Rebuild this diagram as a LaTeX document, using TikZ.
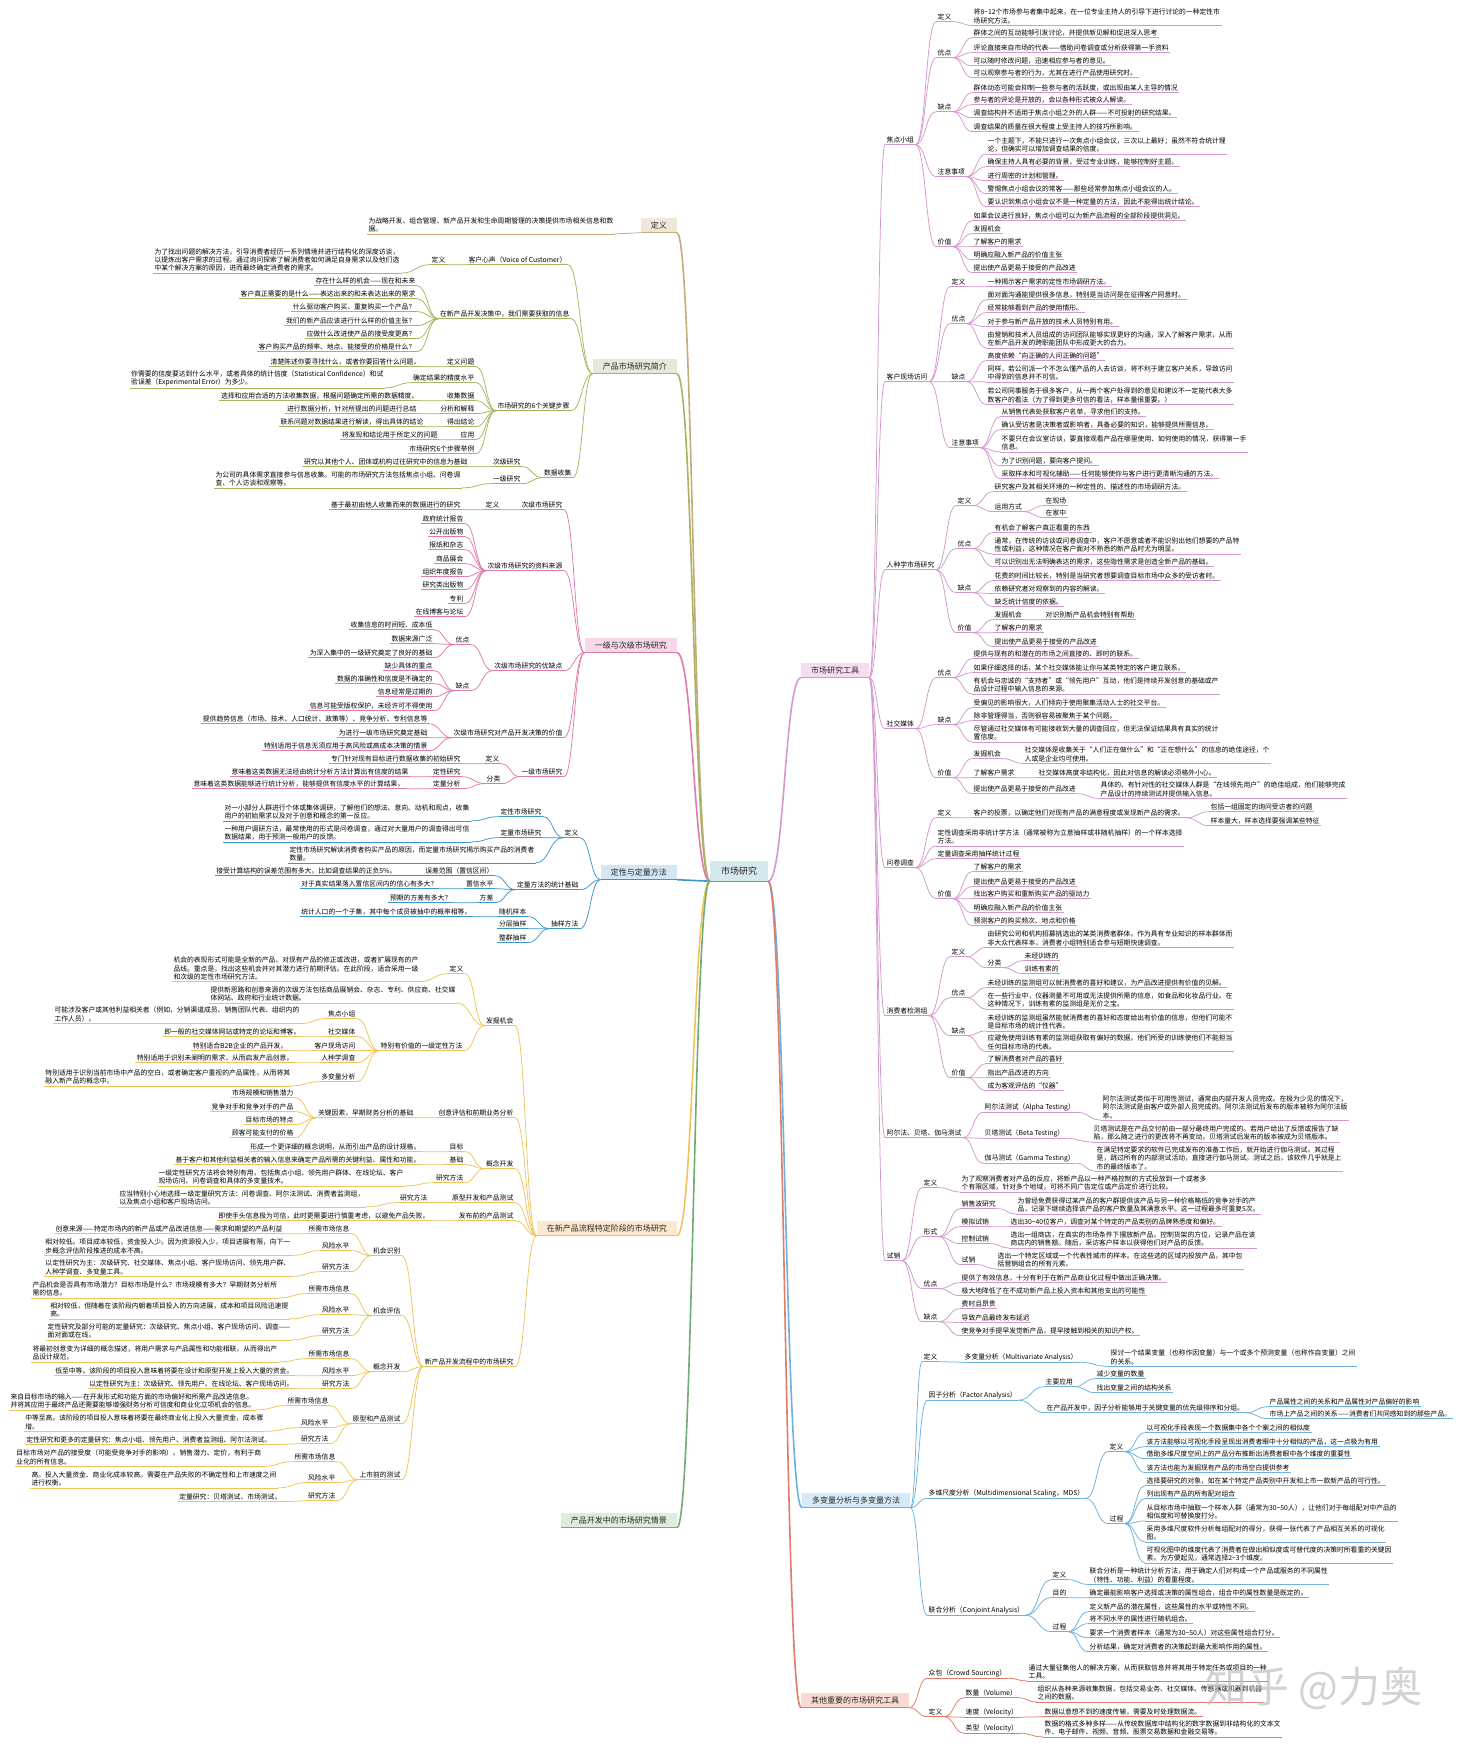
\documentclass[tikz,border=0pt]{standalone}
\usepackage{fontspec}
\setmainfont{Noto Sans CJK SC}
\usetikzlibrary{calc}
\definecolor{cTool}{RGB}{212,152,206}
\definecolor{cToolF}{RGB}{247,220,240}
\definecolor{cMv}{RGB}{110,176,222}
\definecolor{cMvF}{RGB}{215,234,248}
\definecolor{cOt}{RGB}{222,125,105}
\definecolor{cOtF}{RGB}{250,218,208}
\definecolor{cDef}{RGB}{196,172,122}
\definecolor{cDefF}{RGB}{240,231,219}
\definecolor{cIn}{RGB}{168,180,95}
\definecolor{cInF}{RGB}{227,234,215}
\definecolor{cPc}{RGB}{224,122,172}
\definecolor{cPcF}{RGB}{248,216,231}
\definecolor{cQq}{RGB}{62,150,200}
\definecolor{cQqF}{RGB}{211,230,244}
\definecolor{cNp}{RGB}{240,196,90}
\definecolor{cNpF}{RGB}{253,233,206}
\definecolor{cSc}{RGB}{112,172,116}
\definecolor{cScF}{RGB}{223,236,221}
\definecolor{cRoot}{RGB}{214,233,238}
\definecolor{cRootL}{RGB}{95,160,180}
\newcommand\leaffont{\fontsize{6.8}{8.4}\selectfont}
\newcommand\boxfont{\fontsize{8}{9.6}\selectfont}
\newcommand\rootfont{\fontsize{9}{11}\selectfont}
\def\brc{cTool}
\tikzset{
 tx/.style={font=\leaffont,inner xsep=1.5pt,inner ysep=1.3pt,align=left,text=black},
 ul/.style={draw=\brc,line width=0.7pt},
 lk/.style={draw=\brc,line width=0.75pt},
 bx/.style={font=\boxfont,inner xsep=10pt,inner ysep=0pt,minimum height=15pt,text=black!85},
 rk/.style={line width=1.6pt},
}
\newcommand\nodeR[4]{\node[tx,anchor=west] (#1) at (#2,#3) {#4};\draw[ul] (#1.south west)--(#1.south east);}
\newcommand\nodeL[4]{\node[tx,anchor=east] (#1) at (#2,#3) {#4};\draw[ul] (#1.south west)--(#1.south east);}
\newcommand\linkR[2]{\foreach \cn in {#2}{\draw[lk] let \p1=(#1.south east),\p2=(\cn.south west) in (\p1) .. controls ({0.5*\x1+0.5*\x2},\y1) and ({0.5*\x1+0.5*\x2},\y2) .. (\p2);}}
\newcommand\linkL[2]{\foreach \cn in {#2}{\draw[lk] let \p1=(#1.south west),\p2=(\cn.south east) in (\p1) .. controls ({0.5*\x1+0.5*\x2},\y1) and ({0.5*\x1+0.5*\x2},\y2) .. (\p2);}}
\newcommand\boxR[5]{\node[bx,fill=#4,anchor=west] (#1) at (#2,#3) {#5};\draw[draw=\brc,line width=1.2pt] (#1.south west)--(#1.south east);}
\newcommand\boxL[5]{\node[bx,fill=#4,anchor=east] (#1) at (#2,#3) {#5};\draw[draw=\brc,line width=1.2pt] (#1.south west)--(#1.south east);}
\newcommand\rootR[2]{\draw[rk,draw=#1] let \p1=(root.south east),\p2=(#2.south west) in (\p1) .. controls ({0.5*\x1+0.5*\x2},\y1) and ({0.5*\x1+0.5*\x2},\y2) .. (\p2);}
\newcommand\rootL[2]{\draw[rk,draw=#1] let \p1=(root.south west),\p2=(#2.south east) in (\p1) .. controls ({0.5*\x1+0.5*\x2},\y1) and ({0.5*\x1+0.5*\x2},\y2) .. (\p2);}
\begin{document}
\begin{tikzpicture}[x=1pt,y=-1pt]
\useasboundingbox (0,0) rectangle (1466,1749);
\fill[white] (0,0) rectangle (1466,1749);
% ---------------- root
\node[font=\rootfont,fill=cRoot,inner xsep=11pt,minimum height=20pt,text=black!85] (root) at (739,871) {市场研究};
\draw[cRootL,line width=1.2pt] (root.south west)--(root.south east);
% ================= RIGHT: 市场研究工具
\def\brc{cTool}
\boxR{T}{801}{670}{cToolF}{市场研究工具}
\nodeR{T1}{885}{140}{焦点小组}
\nodeR{T2}{885}{377}{客户现场访问}
\nodeR{T3}{885}{565}{人种学市场研究}
\nodeR{T4}{885}{724}{社交媒体}
\nodeR{T5}{885}{863}{问卷调查}
\nodeR{T6}{885}{1011}{消费者检测组}
\nodeR{T7}{885}{1133}{阿尔法、贝塔、伽马测试}
\nodeR{T8}{885}{1256}{试销}
\linkR{T}{T1,T2,T3,T4,T5,T6,T7,T8}
% 焦点小组
\nodeR{T1a}{936}{17}{定义}
\nodeR{T1a1}{972}{16.5}{将8\textasciitilde12个市场参与者集中起来，在一位专业主持人的引导下进行讨论的一种定性市\\场研究方法。}
\linkR{T1a}{T1a1}
\nodeR{T1b}{936}{53}{优点}
\nodeR{T1b1}{972}{33}{群体之间的互动能够引发讨论，并提供新见解和促进深入思考}
\nodeR{T1b2}{972}{48}{评论直接来自市场的代表——借助问卷调查或分析获得第一手资料}
\nodeR{T1b3}{972}{61}{可以随时修改问题，迅速相应参与者的意见。}
\nodeR{T1b4}{972}{73}{可以观察参与者的行为，尤其在进行产品使用研究时。}
\linkR{T1b}{T1b1,T1b2,T1b3,T1b4}
\nodeR{T1c}{936}{107}{缺点}
\nodeR{T1c1}{972}{88}{群体动态可能会抑制一些参与者的活跃度，或出现由某人主导的情况}
\nodeR{T1c2}{972}{100}{参与者的评论是开放的，会以各种形式被众人解读。}
\nodeR{T1c3}{972}{113}{调查结构并不适用于焦点小组之外的人群——不可投射的研究结果。}
\nodeR{T1c4}{972}{127}{调查结果的质量在很大程度上受主持人的技巧所影响。}
\linkR{T1c}{T1c1,T1c2,T1c3,T1c4}
\nodeR{T1d}{936}{172}{注意事项}
\nodeR{T1d1}{986}{145}{一个主题下，不能只进行一次焦点小组会议，三次以上最好；虽然不符合统计理\\论，但确实可以增加调查结果的信度。}
\nodeR{T1d2}{986}{162}{确保主持人具有必要的背景，受过专业训练，能够控制好主题。}
\nodeR{T1d3}{986}{176}{进行周密的计划和管理。}
\nodeR{T1d4}{986}{189}{警惕焦点小组会议的常客——那些经常参加焦点小组会议的人。}
\nodeR{T1d5}{986}{202}{要认识到焦点小组会议不是一种定量的方法，因此不能得出统计结论。}
\linkR{T1d}{T1d1,T1d2,T1d3,T1d4,T1d5}
\nodeR{T1e}{936}{242}{价值}
\nodeR{T1e1}{972}{216}{如果会议进行良好，焦点小组可以为新产品流程的全部阶段提供洞见。}
\nodeR{T1e2}{972}{229}{发掘机会}
\nodeR{T1e3}{972}{242}{了解客户的需求}
\nodeR{T1e4}{972}{255}{明确应融入新产品的价值主张}
\nodeR{T1e5}{972}{268}{提出使产品更易于接受的产品改进}
\linkR{T1e}{T1e1,T1e2,T1e3,T1e4,T1e5}
\linkR{T1}{T1a,T1b,T1c,T1d,T1e}
% 客户现场访问
\nodeR{T2a}{950}{282}{定义}
\nodeR{T2a1}{986}{282}{一种揭示客户需求的定性市场调研方法。}
\linkR{T2a}{T2a1}
\nodeR{T2b}{950}{319}{优点}
\nodeR{T2b1}{986}{295}{面对面沟通能提供很多信息，特别是当访问是在征得客户同意时。}
\nodeR{T2b2}{986}{308}{经常能够看到产品的使用情形。}
\nodeR{T2b3}{986}{322}{对于参与新产品开放的技术人员特别有用。}
\nodeR{T2b4}{986}{339}{由营销和技术人员组成的访问团队能够实现更好的沟通，深入了解客户需求，从而\\在新产品开发的跨职能团队中形成更大的合力。}
\linkR{T2b}{T2b1,T2b2,T2b3,T2b4}
\nodeR{T2c}{950}{377}{缺点}
\nodeR{T2c1}{986}{356}{高度依赖“向正确的人问正确的问题”}
\nodeR{T2c2}{986}{373}{同样，若公司派一个不怎么懂产品的人去访谈，将不利于建立客户关系，导致访问\\中得到的信息并不可信。}
\nodeR{T2c3}{986}{395.5}{若公司同事服务于很多客户，从一两个客户处得到的意见和建议不一定能代表大多\\数客户的看法（为了得到更多可信的看法，样本量很重要。）}
\linkR{T2c}{T2c1,T2c2,T2c3}
\nodeR{T2d}{950}{443}{注意事项}
\nodeR{T2d1}{1000}{412}{从销售代表处获取客户名单，寻求他们的支持。}
\nodeR{T2d2}{1000}{425}{确认受访者是决策者或影响者，具备必要的知识，能够提供所需信息。}
\nodeR{T2d3}{1000}{443}{不要只在会议室访谈，要直接观看产品在哪里使用、如何使用的情况，获得第一手\\信息。}
\nodeR{T2d4}{1000}{461}{为了识别问题，要向客户提问。}
\nodeR{T2d5}{1000}{474}{采取样本和可视化辅助——任何能够使你与客户进行更清晰沟通的方法。}
\linkR{T2d}{T2d1,T2d2,T2d3,T2d4,T2d5}
\linkR{T2}{T2a,T2b,T2c,T2d}
% 人种学市场研究
\nodeR{T3a}{956}{501}{定义}
\nodeR{T3a1}{993}{487}{研究客户及其相关环境的一种定性的、描述性的市场调研方法。}
\nodeR{T3a2}{993}{507}{运用方式}
\nodeR{T3a2a}{1044}{501}{在现场}
\nodeR{T3a2b}{1044}{513}{在家中}
\linkR{T3a2}{T3a2a,T3a2b}
\linkR{T3a}{T3a1,T3a2}
\nodeR{T3b}{956}{544}{优点}
\nodeR{T3b1}{993}{528}{有机会了解客户真正看重的东西}
\nodeR{T3b2}{993}{545}{通常，在传统的访谈或问卷调查中，客户不愿意或者不能识别出他们想要的产品特\\性或利益，这种情况在客户面对不熟悉的新产品时尤为明显。}
\nodeR{T3b3}{993}{562}{可以识别出无法明确表达的需求，这些隐性需求是创造全新产品的基础。}
\linkR{T3b}{T3b1,T3b2,T3b3}
\nodeR{T3c}{956}{588}{缺点}
\nodeR{T3c1}{993}{576}{花费的时间比较长，特别是当研究者想要调查目标市场中众多的受访者时。}
\nodeR{T3c2}{993}{589}{依赖研究者对观察到的内容的解读。}
\nodeR{T3c3}{993}{602}{缺乏统计信度的依据。}
\linkR{T3c}{T3c1,T3c2,T3c3}
\nodeR{T3d}{956}{628}{价值}
\nodeR{T3d1}{993}{615}{发掘机会}
\nodeR{T3d1a}{1044}{615}{对识别新产品机会特别有帮助}
\linkR{T3d1}{T3d1a}
\nodeR{T3d2}{993}{628}{了解客户的需求}
\nodeR{T3d3}{993}{642}{提出使产品更易于接受的产品改进}
\linkR{T3d}{T3d1,T3d2,T3d3}
\linkR{T3}{T3a,T3b,T3c,T3d}
% 社交媒体
\nodeR{T4a}{936}{673}{优点}
\nodeR{T4a1}{972}{654}{提供与现有的和潜在的市场之间直接的、即时的联系。}
\nodeR{T4a2}{972}{668}{如果仔细选择的话，某个社交媒体能让你与某类特定的客户建立联系。}
\nodeR{T4a3}{972}{685}{有机会与忠诚的“支持者”或“领先用户”互动，他们是持续开发创意的基础或产\\品设计过程中输入信息的来源。}
\linkR{T4a}{T4a1,T4a2,T4a3}
\nodeR{T4b}{936}{720}{缺点}
\nodeR{T4b1}{972}{703}{受偏见的影响很大，人们倾向于使用聚集活动人士的社交平台。}
\nodeR{T4b2}{972}{716}{除非管理得当，否则很容易被聚焦于某个问题。}
\nodeR{T4b3}{972}{733}{尽管通过社交媒体有可能接收到大量的调查回应，但无法保证结果具有真实的统计\\置信度。}
\linkR{T4b}{T4b1,T4b2,T4b3}
\nodeR{T4c}{936}{773}{价值}
\nodeR{T4c1}{972}{754}{发掘机会}
\nodeR{T4c1a}{1023}{754.5}{社交媒体是收集关于“人们正在做什么”和“正在想什么”的信息的绝佳途径，个\\人或是企业均可使用。}
\linkR{T4c1}{T4c1a}
\nodeR{T4c2}{972}{773}{了解客户需求}
\nodeR{T4c2a}{1037}{773}{社交媒体高度非结构化，因此对信息的解读必须格外小心。}
\linkR{T4c2}{T4c2a}
\nodeR{T4c3}{972}{789}{提出使产品更易于接受的产品改进}
\nodeR{T4c3a}{1099}{789.5}{具体的、有针对性的社交媒体人群是“在线领先用户”的绝佳组成，他们能够完成\\产品设计的持续测试并提供输入信息。}
\linkR{T4c3}{T4c3a}
\linkR{T4c}{T4c1,T4c2,T4c3}
\linkR{T4}{T4a,T4b,T4c}
% 问卷调查
\nodeR{T5a}{936}{813}{定义}
\nodeR{T5a1}{972}{813}{客户的投票，以确定他们对现有产品的满意程度或发现新产品的需求。}
\nodeR{T5a1a}{1209}{807}{包括一组固定的询问受访者的问题}
\nodeR{T5a1b}{1209}{821}{样本量大，样本选择要强调某些特征}
\linkR{T5a1}{T5a1a,T5a1b}
\linkR{T5a}{T5a1}
\nodeR{T5b}{936}{837}{定性调查采用非统计学方法（通常被称为立意抽样或非随机抽样）的一个样本选择\\方法。}
\nodeR{T5c}{936}{854}{定量调查采用抽样统计过程}
\nodeR{T5d}{936}{894}{价值}
\nodeR{T5d1}{972}{867}{了解客户的需求}
\nodeR{T5d2}{972}{882}{提出使产品更易于接受的产品改进}
\nodeR{T5d3}{972}{894}{找出客户购买和重新购买产品的驱动力}
\nodeR{T5d4}{972}{908}{明确应融入新产品的价值主张}
\nodeR{T5d5}{972}{921}{预测客户的购买频次、地点和价格}
\linkR{T5d}{T5d1,T5d2,T5d3,T5d4,T5d5}
\linkR{T5}{T5a,T5b,T5c,T5d}
% 消费者检测组
\nodeR{T6a}{950}{952}{定义}
\nodeR{T6a1}{986}{938.5}{由研究公司和机构招募挑选出的某类消费者群体。作为具有专业知识的样本群体而\\非大众代表样本，消费者小组特别适合参与短期快速调查。}
\nodeR{T6a2}{986}{963}{分类}
\nodeR{T6a2a}{1023}{956}{未经训练的}
\nodeR{T6a2b}{1023}{969}{训练有素的}
\linkR{T6a2}{T6a2a,T6a2b}
\linkR{T6a}{T6a1,T6a2}
\nodeR{T6b}{950}{993}{优点}
\nodeR{T6b1}{986}{983}{未经训练的监测组可以就消费者的喜好和建议，为产品改进提供有价值的见解。}
\nodeR{T6b2}{986}{1000}{在一些行业中，仪器测量不可用或无法提供所需的信息，如食品和化妆品行业。在\\这种情况下，训练有素的监测组是无价之宝。}
\linkR{T6b}{T6b1,T6b2}
\nodeR{T6c}{950}{1031}{缺点}
\nodeR{T6c1}{986}{1022}{未经训练的监测组虽然能就消费者的喜好和态度给出有价值的信息，但他们可能不\\是目标市场的统计性代表。}
\nodeR{T6c2}{986}{1042.5}{应避免使用训练有素的监测组获取有偏好的数据。他们所受的训练使他们不能担当\\任何目标市场的代表。}
\linkR{T6c}{T6c1,T6c2}
\nodeR{T6d}{950}{1073}{价值}
\nodeR{T6d1}{986}{1059}{了解消费者对产品的喜好}
\nodeR{T6d2}{986}{1073}{指出产品改进的方向}
\nodeR{T6d3}{986}{1086}{成为客观评估的“仪器”}
\linkR{T6d}{T6d1,T6d2,T6d3}
\linkR{T6}{T6a,T6b,T6c,T6d}
% 阿尔法 贝塔 伽马
\nodeR{T7a}{983}{1107}{阿尔法测试（Alpha Testing）}
\nodeR{T7a1}{1101}{1107}{阿尔法测试类似于可用性测试，通常由内部开发人员完成。在极为少见的情况下，\\阿尔法测试是由客户或外部人员完成的。阿尔法测试后发布的版本被称为阿尔法版\\本。}
\linkR{T7a}{T7a1}
\nodeR{T7b}{983}{1133}{贝塔测试（Beta Testing）}
\nodeR{T7b1}{1092}{1133}{贝塔测试是在产品交付前由一部分最终用户完成的。若用户给出了反馈或报告了缺\\陷，那么随之进行的更改将不再变动。贝塔测试后发布的版本被成为贝塔版本。}
\linkR{T7b}{T7b1}
\nodeR{T7c}{983}{1158}{伽马测试（Gamma Testing）}
\nodeR{T7c1}{1095}{1158}{在满足特定要求的软件已完成发布的准备工作后，就开始进行伽马测试。其过程\\是，跳过所有的内部测试活动，直接进行伽马测试。测试之后，该软件几乎就是上\\市的最终版本了。}
\linkR{T7c}{T7c1}
\linkR{T7}{T7a,T7b,T7c}
% 试销
\nodeR{T8a}{922}{1183}{定义}
\nodeR{T8a1}{960}{1183}{为了观察消费者对产品的反应，将新产品以一种严格控制的方式投放到一个或者多\\个有限区域，针对多个地域，可将不同广告定位或产品定价进行比较。}
\linkR{T8a}{T8a1}
\nodeR{T8b}{922}{1232}{形式}
\nodeR{T8b1}{960}{1204}{销售波研究}
\nodeR{T8b1a}{1016}{1205}{为曾经免费获得过某产品的客户群提供该产品与另一种价格略低的竞争对手的产\\品，记录下继续选择该产品的客户数量及其满意水平。这一过程最多可重复5次。}
\linkR{T8b1}{T8b1a}
\nodeR{T8b2}{960}{1222}{模拟试销}
\nodeR{T8b2a}{1009}{1222}{选出30\textasciitilde40位客户，调查对某个特定的产品类别的品牌熟悉度和偏好。}
\linkR{T8b2}{T8b2a}
\nodeR{T8b3}{960}{1239}{控制试销}
\nodeR{T8b3a}{1009}{1239}{选出一组商店，在真实的市场条件下摆放新产品。控制货架的方位，记录产品在该\\商店内的销售额。随后，采访客户样本以获得他们对产品的反馈。}
\linkR{T8b3}{T8b3a}
\nodeR{T8b4}{960}{1260}{试销}
\nodeR{T8b4a}{996}{1260}{选出一个特定区域或一个代表性城市的样本。在这些选的区域内投放产品，其中包\\括营销组合的所有元素。}
\linkR{T8b4}{T8b4a}
\linkR{T8b}{T8b1,T8b2,T8b3,T8b4}
\nodeR{T8c}{922}{1284}{优点}
\nodeR{T8c1}{960}{1278}{提供了有效信息，十分有利于在新产品商业化过程中做出正确决策。}
\nodeR{T8c2}{960}{1291}{极大地降低了在不成功新产品上投入资本和其他支出的可能性}
\linkR{T8c}{T8c1,T8c2}
\nodeR{T8d}{922}{1317}{缺点}
\nodeR{T8d1}{960}{1304}{费时且昂贵}
\nodeR{T8d2}{960}{1318}{导致产品最终发布延迟}
\nodeR{T8d3}{960}{1331}{使竞争对手提早发觉新产品，提早接触到相关的知识产权。}
\linkR{T8d}{T8d1,T8d2,T8d3}
\linkR{T8}{T8a,T8b,T8c,T8d}
% ================= RIGHT: 多变量
\def\brc{cMv}
\boxR{M}{802}{1500}{cMvF}{多变量分析与多变量方法}
\nodeR{M1}{922}{1357}{定义}
\nodeR{M1a}{963}{1357}{多变量分析（Multivariate Analysis）}
\nodeR{M1a1}{1109}{1357.5}{探讨一个结果变量（也称作因变量）与一个或多个预测变量（也称作自变量）之间\\的关系。}
\linkR{M1a}{M1a1}
\linkR{M1}{M1a}
\nodeR{M2}{927}{1395}{因子分析（Factor Analysis）}
\nodeR{M2a}{1044}{1382}{主要应用}
\nodeR{M2a1}{1095}{1374}{减少变量的数量}
\nodeR{M2a2}{1095}{1388}{找出变量之间的结构关系}
\linkR{M2a}{M2a1,M2a2}
\nodeR{M2b}{1045}{1408}{在产品开发中，因子分析能够用于关键变量的优先级排序和分组。}
\nodeR{M2b1}{1268}{1402}{产品属性之间的关系和产品属性对产品偏好的影响}
\nodeR{M2b2}{1268}{1414}{市场上产品之间的关系——消费者们共同感知到的那些产品。}
\linkR{M2b}{M2b1,M2b2}
\linkR{M2}{M2a,M2b}
\nodeR{M3}{927}{1493}{多维尺度分析（Multidimensional Scaling，MDS）}
\nodeR{M3a}{1108}{1447}{定义}
\nodeR{M3a1}{1145}{1428}{以可视化手段表现一个数据集中各个个案之间的相似度}
\nodeR{M3a2}{1145}{1442}{该方法能够以可视化手段呈现出消费者眼中十分相似的产品，这一点极为有用}
\nodeR{M3a3}{1145}{1454}{借助多维尺度空间上的产品分布推断出消费者眼中各个维度的重要性}
\nodeR{M3a4}{1145}{1468}{该方法也能为发掘现有产品的市场空白提供参考}
\linkR{M3a}{M3a1,M3a2,M3a3,M3a4}
\nodeR{M3b}{1108}{1519}{过程}
\nodeR{M3b1}{1145}{1481}{选择要研究的对象，如在某个特定产品类别中开发和上市一款新产品的可行性。}
\nodeR{M3b2}{1145}{1494}{列出现有产品的所有配对组合}
\nodeR{M3b3}{1145}{1512}{从目标市场中抽取一个样本人群（通常为30\textasciitilde50人），让他们对于每组配对中产品的\\相似度和可替换度打分。}
\nodeR{M3b4}{1145}{1533}{采用多维尺度软件分析每组配对的得分，获得一张代表了产品相互关系的可视化\\图。}
\nodeR{M3b5}{1145}{1554}{可视化图中的维度代表了消费者在做出相似度或可替代度的决策时所看重的关键因\\素。为方便起见，通常选择2\textasciitilde3个维度。}
\linkR{M3b}{M3b1,M3b2,M3b3,M3b4,M3b5}
\linkR{M3}{M3a,M3b}
\nodeR{M4}{927}{1610}{联合分析（Conjoint Analysis）}
\nodeR{M4a}{1051}{1575}{定义}
\nodeR{M4a1}{1088}{1575.5}{联合分析是一种统计分析方法，用于确定人们对构成一个产品或服务的不同属性\\（特性、功能、利益）的看重程度。}
\linkR{M4a}{M4a1}
\nodeR{M4b}{1051}{1593}{目的}
\nodeR{M4b1}{1088}{1593}{确定最能影响客户选择或决策的属性组合，组合中的属性数量是既定的。}
\linkR{M4b}{M4b1}
\nodeR{M4c}{1051}{1627}{过程}
\nodeR{M4c1}{1088}{1607}{定义新产品的潜在属性，这些属性的水平或特性不同。}
\nodeR{M4c2}{1088}{1619}{将不同水平的属性进行随机组合。}
\nodeR{M4c3}{1088}{1633}{要求一个消费者样本（通常为30\textasciitilde50人）对这些属性组合打分。}
\nodeR{M4c4}{1088}{1647}{分析结果，确定对消费者的决策起到最大影响作用的属性。}
\linkR{M4c}{M4c1,M4c2,M4c3,M4c4}
\linkR{M4}{M4a,M4b,M4c}
\linkR{M}{M1,M2,M3,M4}
% ================= RIGHT: 其他
\def\brc{cOt}
\boxR{O}{801}{1700}{cOtF}{其他重要的市场研究工具}
\nodeR{O1}{927}{1673}{众包（Crowd Sourcing）}
\nodeR{O1a}{1027}{1672}{通过大量征集他人的解决方案，从而获取信息并将其用于特定任务或项目的一种\\工具。}
\linkR{O1}{O1a}
\nodeR{O2}{927}{1712}{定义}
\nodeR{O2a}{964}{1693}{数量（Volume）}
\nodeR{O2a1}{1036}{1693}{组织从各种来源收集数据，包括交易业务、社交媒体、传感器或机器到机器\\之间的数据。}
\linkR{O2a}{O2a1}
\nodeR{O2b}{964}{1712}{速度（Velocity）}
\nodeR{O2b1}{1043}{1712}{数据以意想不到的速度传输，需要及时处理数据流。}
\linkR{O2b}{O2b1}
\nodeR{O2c}{964}{1728}{类型（Velocity）}
\nodeR{O2c1}{1043}{1728}{数据的格式多种多样——从传统数据库中结构化的数字数据到非结构化的文本文\\件、电子邮件、视频、音频、股票交易数据和金融交易等。}
\linkR{O2c}{O2c1}
\linkR{O2}{O2a,O2b,O2c}
\linkR{O}{O1,O2}
% ================= LEFT: 定义
\def\brc{cDef}
\boxL{D}{677}{225}{cDefF}{定义}
\nodeL{D1}{615}{225}{为战略开发、组合管理、新产品开发和生命周期管理的决策提供市场相关信息和数\\据。}
\linkL{D}{D1}
% ================= LEFT: 产品市场研究简介
\def\brc{cIn}
\boxL{I}{677}{366}{cInF}{产品市场研究简介}
\nodeL{I1}{568}{260}{客户心声（Voice of Customer）}
\nodeL{I1a}{447}{260}{定义}
\nodeL{I1a1}{401}{260}{为了找出问题的解决方法，引导消费者经历一系列情境并进行结构化的深度访谈，\\以提炼出客户需求的过程。通过询问探索了解消费者如何满足自身需求以及他们选\\中某个解决方案的原因，进而最终确定消费者的需求。}
\linkL{I1a}{I1a1}
\linkL{I1}{I1a}
\nodeL{I2}{571}{314}{在新产品开发决策中，我们需要获取的信息}
\nodeL{I2a}{417}{281}{存在什么样的机会——现在和未来}
\nodeL{I2b}{417}{294}{客户真正需要的是什么——表达出来的和未表达出来的需求}
\nodeL{I2c}{417}{307}{什么驱动客户购买、重复购买一个产品？}
\nodeL{I2d}{417}{321}{我们的新产品应该进行什么样的价值主张？}
\nodeL{I2e}{417}{334}{应做什么改进使产品的接受度更高？}
\nodeL{I2f}{417}{347}{客户购买产品的频率、地点、能接受的价格是什么？}
\linkL{I2}{I2a,I2b,I2c,I2d,I2e,I2f}
\nodeL{I3}{571}{406}{市场研究的6个关键步骤}
\nodeL{I3a}{476}{362}{定义问题}
\nodeL{I3a1}{422}{362}{清楚陈述你要寻找什么，或者你要回答什么问题。}
\linkL{I3a}{I3a1}
\nodeL{I3b}{476}{378}{确定结果的精度水平}
\nodeL{I3b1}{385}{378.5}{你需要的信度要达到什么水平，或者具体的统计信度（Statistical Confidence）和试\\验误差（Experimental Error）为多少。}
\linkL{I3b}{I3b1}
\nodeL{I3c}{476}{396}{收集数据}
\nodeL{I3c1}{420}{396}{选择和应用合适的方法收集数据，根据问题确定所需的数据精度。}
\linkL{I3c}{I3c1}
\nodeL{I3d}{476}{409}{分析和解释}
\nodeL{I3d1}{418}{409}{进行数据分析，针对所提出的问题进行总结}
\linkL{I3d}{I3d1}
\nodeL{I3e}{476}{422}{得出结论}
\nodeL{I3e1}{425}{422}{联系问题对数据结果进行解读，得出具体的结论}
\linkL{I3e}{I3e1}
\nodeL{I3f}{476}{435}{应用}
\nodeL{I3f1}{439}{435}{将发现和结论用于所定义的问题}
\linkL{I3f}{I3f1}
\nodeL{I3g}{476}{449}{市场研究6个步骤举例}
\linkL{I3}{I3a,I3b,I3c,I3d,I3e,I3f,I3g}
\nodeL{I4}{573}{473}{数据收集}
\nodeL{I4a}{522}{462}{次级研究}
\nodeL{I4a1}{469}{462}{研究以其他个人、团体或机构过往研究中的信息为基础}
\linkL{I4a}{I4a1}
\nodeL{I4b}{522}{479}{一级研究}
\nodeL{I4b1}{462}{479}{为公司的具体需求直接参与信息收集。可能的市场研究方法包括焦点小组、问卷调\\查、个人访谈和观察等。}
\linkL{I4b}{I4b1}
\linkL{I4}{I4a,I4b}
\linkL{I}{I1,I2,I3,I4}
% ================= LEFT: 一级与次级市场研究
\def\brc{cPc}
\boxL{P}{677}{645}{cPcF}{一级与次级市场研究}
\nodeL{P1}{564}{505}{次级市场研究}
\nodeL{P1a}{501}{505}{定义}
\nodeL{P1a1}{462}{505}{基于最初由他人收集而来的数据进行的研究}
\linkL{P1a}{P1a1}
\linkL{P1}{P1a}
\nodeL{P2}{564}{566}{次级市场研究的资料来源}
\nodeL{P2a}{465}{519}{政府统计报告}
\nodeL{P2b}{465}{532}{公开出版物}
\nodeL{P2c}{465}{545}{报纸和杂志}
\nodeL{P2d}{465}{559}{商品展会}
\nodeL{P2e}{465}{572}{组织年度报告}
\nodeL{P2f}{465}{585}{研究类出版物}
\nodeL{P2g}{465}{599}{专利}
\nodeL{P2h}{465}{612}{在线博客与论坛}
\linkL{P2}{P2a,P2b,P2c,P2d,P2e,P2f,P2g,P2h}
\nodeL{P3}{564}{666}{次级市场研究的优缺点}
\nodeL{P3a}{471}{640}{优点}
\nodeL{P3a1}{434}{625}{收集信息的时间短、成本低}
\nodeL{P3a2}{434}{639}{数据来源广泛}
\nodeL{P3a3}{434}{653}{为深入集中的一级研究奠定了良好的基础}
\linkL{P3a}{P3a1,P3a2,P3a3}
\nodeL{P3b}{471}{686}{缺点}
\nodeL{P3b1}{434}{666}{缺少具体的重点}
\nodeL{P3b2}{434}{679}{数据的准确性和信度是不确定的}
\nodeL{P3b3}{434}{692}{信息经常是过期的}
\nodeL{P3b4}{434}{706}{信息可能受版权保护，未经许可不得使用}
\linkL{P3b}{P3b1,P3b2,P3b3,P3b4}
\linkL{P3}{P3a,P3b}
\nodeL{P4}{564}{733}{次级市场研究对产品开发决策的价值}
\nodeL{P4a}{429}{719}{提供趋势信息（市场、技术、人口统计、政策等）、竞争分析、专利信息等}
\nodeL{P4b}{429}{733}{为进行一级市场研究奠定基础}
\nodeL{P4c}{429}{746}{特别适用于信息无须应用于高风险或高成本决策的情景}
\linkL{P4}{P4a,P4b,P4c}
\nodeL{P5}{564}{772}{一级市场研究}
\nodeL{P5a}{501}{759}{定义}
\nodeL{P5a1}{462}{759}{专门针对现有目标进行数据收集的初始研究}
\linkL{P5a}{P5a1}
\nodeL{P5b}{502}{779}{分类}
\nodeL{P5b1}{462}{772}{定性研究}
\nodeL{P5b1a}{410}{772}{意味着这类数据无法经由统计分析方法计算出有信度的结果}
\linkL{P5b1}{P5b1a}
\nodeL{P5b2}{462}{784}{定量分析}
\nodeL{P5b2a}{406}{784}{意味着这类数据能够进行统计分析，能够提供有信度水平的计算结果。}
\linkL{P5b2}{P5b2a}
\linkL{P5b}{P5b1,P5b2}
\linkL{P5}{P5a,P5b}
\linkL{P}{P1,P2,P3,P4,P5}
% ================= LEFT: 定性与定量方法
\def\brc{cQq}
\boxL{Q}{677}{872}{cQqF}{定性与定量方法}
\nodeL{Q1}{580}{833}{定义}
\nodeL{Q1a}{543}{812}{定性市场研究}
\nodeL{Q1a1}{471}{812}{对一小部分人群进行个体或集体调研，了解他们的想法、意向、动机和观点，收集\\用户的初始需求以及对于创意和概念的第一反应。}
\linkL{Q1a}{Q1a1}
\nodeL{Q1b}{543}{833}{定量市场研究}
\nodeL{Q1b1}{471}{833}{一种用户调研方法，最常使用的形式是问卷调查，通过对大量用户的调查得出可信\\数据结果，用于预测一般用户的反馈。}
\linkL{Q1b}{Q1b1}
\nodeL{Q1c}{536}{854}{定性市场研究解读消费者购买产品的原因，而定量市场研究揭示购买产品的消费者\\数量。}
\linkL{Q1}{Q1a,Q1b,Q1c}
\nodeL{Q2}{580}{885}{定量方法的统计基础}
\nodeL{Q2a}{495}{871}{误差范围（置信区间）}
\nodeL{Q2a1}{398}{871}{接受计算结构的误差范围有多大，比如调查结果的正负5\%。}
\linkL{Q2a}{Q2a1}
\nodeL{Q2b}{495}{884}{置信水平}
\nodeL{Q2b1}{439}{884}{对于真实结果落入置信区间内的信心有多大？}
\linkL{Q2b}{Q2b1}
\nodeL{Q2c}{495}{898}{方差}
\nodeL{Q2c1}{453}{898}{预期的方差有多大？}
\linkL{Q2c}{Q2c1}
\linkL{Q2}{Q2a,Q2b,Q2c}
\nodeL{Q3}{580}{924}{抽样方法}
\nodeL{Q3a}{528}{912}{随机样本}
\nodeL{Q3a1}{473}{912}{统计人口的一个子集，其中每个成员被抽中的概率相等。}
\linkL{Q3a}{Q3a1}
\nodeL{Q3b}{528}{924}{分层抽样}
\nodeL{Q3c}{528}{938}{整群抽样}
\linkL{Q3}{Q3a,Q3b,Q3c}
\linkL{Q}{Q1,Q2,Q3}
% ================= LEFT: 在新产品流程特定阶段的市场研究
\def\brc{cNp}
\boxL{N}{677}{1228}{cNpF}{在新产品流程特定阶段的市场研究}
\nodeL{N1}{515}{1021}{发掘机会}
\nodeL{N1a}{465}{969}{定义}
\nodeL{N1a1}{420}{968.5}{机会的表现形式可能是全新的产品、对现有产品的修正或改进，或者扩展现有的产\\品线。重点是，找出这些机会并对其潜力进行前期评估。在此阶段，适合采用一级\\和次级的定性市场研究方法。}
\linkL{N1a}{N1a1}
\nodeL{N1b}{457}{994}{提供新思路和创意来源的次级方法包括商品展销会、杂志、专利、供应商、社交媒\\体网站、政府和行业统计数据。}
\nodeL{N1c}{464}{1046}{特别有价值的一级定性方法}
\nodeL{N1c1}{357}{1014}{焦点小组}
\nodeL{N1c1a}{301}{1014.5}{可能涉及客户或其他利益相关者（例如，分销渠道成员、销售团队代表、组织内的\\工作人员）。}
\linkL{N1c1}{N1c1a}
\nodeL{N1c2}{357}{1032}{社交媒体}
\nodeL{N1c2a}{302}{1032}{即一般的社交媒体网站或特定的论坛和博客。}
\linkL{N1c2}{N1c2a}
\nodeL{N1c3}{357}{1046}{客户现场访问}
\nodeL{N1c3a}{289}{1046}{特别适合B2B企业的产品开发。}
\linkL{N1c3}{N1c3a}
\nodeL{N1c4}{357}{1058}{人种学调查}
\nodeL{N1c4a}{295}{1058}{特别适用于识别未阐明的需求，从而启发产品创意。}
\linkL{N1c4}{N1c4a}
\nodeL{N1c5}{357}{1077}{多变量分析}
\nodeL{N1c5a}{292}{1077}{特别适用于识别当前市场中产品的空白，或者确定客户重视的产品属性，从而将其\\融入新产品的概念中。}
\linkL{N1c5}{N1c5a}
\linkL{N1c}{N1c1,N1c2,N1c3,N1c4,N1c5}
\linkL{N1}{N1a,N1b,N1c}
\nodeL{N2}{515}{1113}{创意评估和前期业务分析}
\nodeL{N2a}{415}{1113}{关键因素，早期财务分析的基础}
\nodeL{N2a1}{295}{1093}{市场规模和销售潜力}
\nodeL{N2a2}{295}{1107}{竞争对手和竞争对手的产品}
\nodeL{N2a3}{295}{1120}{目标市场的特点}
\nodeL{N2a4}{295}{1133}{顾客可能支付的价格}
\linkL{N2a}{N2a1,N2a2,N2a3,N2a4}
\linkL{N2}{N2a}
\nodeL{N3}{515}{1164}{概念开发}
\nodeL{N3a}{465}{1147}{目标}
\nodeL{N3a1}{422}{1147}{形成一个更详细的概念说明，从而引出产品的设计规格。}
\linkL{N3a}{N3a1}
\nodeL{N3b}{465}{1160}{基础}
\nodeL{N3b1}{422}{1160}{基于客户和其他利益相关者的输入信息来确定产品所需的关键利益、属性和功能。}
\linkL{N3b}{N3b1}
\nodeL{N3c}{465}{1178}{研究方法}
\nodeL{N3c1}{405}{1177}{一级定性研究方法将会特别有用，包括焦点小组、领先用户群体、在线论坛、客户\\现场访问、问卷调查和具体的多变量技术。}
\linkL{N3c}{N3c1}
\linkL{N3}{N3a,N3b,N3c}
\nodeL{N4}{515}{1198}{原型开发和产品测试}
\nodeL{N4a}{429}{1198}{研究方法}
\nodeL{N4a1}{366}{1198}{应当特别小心地选择一级定量研究方法：问卷调查、阿尔法测试、消费者监测组，\\以及焦点小组和客户现场访问。}
\linkL{N4a}{N4a1}
\linkL{N4}{N4a}
\nodeL{N5}{515}{1216}{发布前的产品测试}
\nodeL{N5a}{431}{1216}{即使手头信息极为可信，此时更需要进行慎重考虑，以避免产品失败。}
\linkL{N5}{N5a}
\nodeL{N6}{515}{1362}{新产品开发流程中的市场研究}
\nodeL{N6a}{402}{1251}{机会识别}
\nodeL{N6a1}{351}{1229}{所需市场信息}
\nodeL{N6a1a}{284}{1229}{创意来源——特定市场内的新产品或产品改进信息——需求和期望的产品利益}
\linkL{N6a1}{N6a1a}
\nodeL{N6a2}{351}{1246}{风险水平}
\nodeL{N6a2a}{292}{1246.5}{相对较低。项目成本较低，资金投入少。因为资源投入少，项目进展有限，向下一\\步概念评估阶段推进的成本不高。}
\linkL{N6a2}{N6a2a}
\nodeL{N6a3}{351}{1267}{研究方法}
\nodeL{N6a3a}{292}{1267.5}{以定性研究为主：次级研究、社交媒体、焦点小组、客户现场访问、领先用户群、\\人种学调查、多变量工具。}
\linkL{N6a3}{N6a3a}
\linkL{N6a}{N6a1,N6a2,N6a3}
\nodeL{N6b}{402}{1311}{机会评估}
\nodeL{N6b1}{351}{1289}{所需市场信息}
\nodeL{N6b1a}{279}{1289}{产品机会是否具有市场潜力？目标市场是什么？市场规模有多大？早期财务分析所\\需的信息。}
\linkL{N6b1}{N6b1a}
\nodeL{N6b2}{351}{1310}{风险水平}
\nodeL{N6b2a}{290}{1310}{相对较低，但随着在该阶段内朝着项目投入的方向进展，成本和项目风险迅速提\\高。}
\linkL{N6b2}{N6b2a}
\nodeL{N6b3}{351}{1331}{研究方法}
\nodeL{N6b3a}{292}{1331}{定性研究及部分可能的定量研究：次级研究、焦点小组、客户现场访问、调查——\\面对面或在线。}
\linkL{N6b3}{N6b3a}
\linkL{N6b}{N6b1,N6b2,N6b3}
\nodeL{N6c}{402}{1367}{概念开发}
\nodeL{N6c1}{351}{1354}{所需市场信息}
\nodeL{N6c1a}{279}{1353}{将最初创意变为详细的概念描述，将用户需求与产品属性和功能相联，从而得出产\\品设计规范。}
\linkL{N6c1}{N6c1a}
\nodeL{N6c2}{351}{1371}{风险水平}
\nodeL{N6c2a}{295}{1371}{低至中等。该阶段的项目投入意味着将要在设计和原型开发上投入大量的资金。}
\linkL{N6c2}{N6c2a}
\nodeL{N6c3}{351}{1384}{研究方法}
\nodeL{N6c3a}{295}{1384}{以定性研究为主：次级研究、领先用户、在线论坛、客户现场访问。}
\linkL{N6c3}{N6c3a}
\linkL{N6c}{N6c1,N6c2,N6c3}
\nodeL{N6d}{402}{1419}{原型和产品测试}
\nodeL{N6d1}{330}{1401}{所需市场信息}
\nodeL{N6d1a}{257}{1401}{来自目标市场的输入——在开发形式和功能方面的市场偏好和所需产品改进信息。\\并将其应用于最终产品还需要能够增强财务分析可信度和商业化立项机会的信息。}
\linkL{N6d1}{N6d1a}
\nodeL{N6d2}{330}{1423}{风险水平}
\nodeL{N6d2a}{265}{1422.5}{中等至高。该阶段的项目投入意味着将要在最终商业化上投入大量资金，成本骤\\增。}
\linkL{N6d2}{N6d2a}
\nodeL{N6d3}{330}{1439}{研究方法}
\nodeL{N6d3a}{273}{1440}{定性研究和更多的定量研究：焦点小组、领先用户、消费者监测组、阿尔法测试。}
\linkL{N6d3}{N6d3a}
\linkL{N6d}{N6d1,N6d2,N6d3}
\nodeL{N6e}{402}{1475}{上市前的测试}
\nodeL{N6e1}{337}{1457}{所需市场信息}
\nodeL{N6e1a}{263}{1457.5}{目标市场对产品的接受度（可能受竞争对手的影响）、销售潜力、定价，有利于商\\业化的所有信息。}
\linkL{N6e1}{N6e1a}
\nodeL{N6e2}{337}{1478}{风险水平}
\nodeL{N6e2a}{278}{1479}{高。投入大量资金、商业化成本较高。需要在产品失败的不确定性和上市速度之间\\进行权衡。}
\linkL{N6e2}{N6e2a}
\nodeL{N6e3}{337}{1496}{研究方法}
\nodeL{N6e3a}{283}{1497}{定量研究：贝塔测试、市场测试。}
\linkL{N6e3}{N6e3a}
\linkL{N6e}{N6e1,N6e2,N6e3}
\linkL{N6}{N6a,N6b,N6c,N6d,N6e}
\linkL{N}{N1,N2,N3,N4,N5,N6}
% ================= LEFT: 产品开发中的市场研究情景
\def\brc{cSc}
\boxL{S}{677}{1520}{cScF}{产品开发中的市场研究情景}
% ================= root links
\rootR{cTool}{T}
\rootR{cMv}{M}
\rootR{cOt}{O}
\rootL{cDef}{D}
\rootL{cIn}{I}
\rootL{cPc}{P}
\rootL{cQq}{Q}
\rootL{cNp}{N}
\rootL{cSc}{S}
% watermark
\node[text=gray!50,opacity=0.7,font=\fontsize{42}{42}\selectfont] (wm) at (1314,1688) {知乎 @力奥};
\end{tikzpicture}
\end{document}
